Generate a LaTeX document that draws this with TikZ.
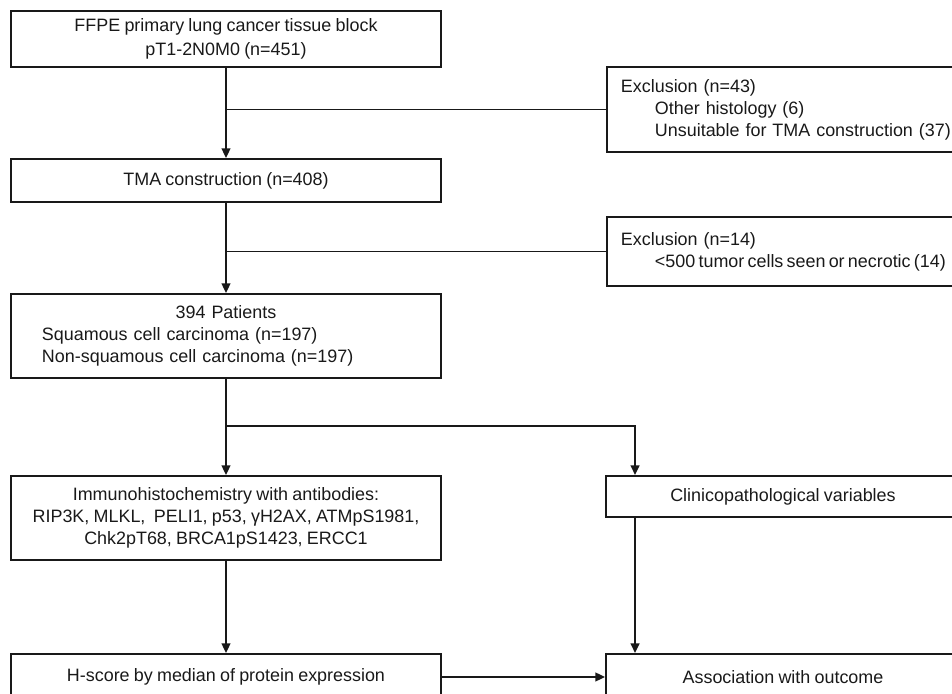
\documentclass[tikz,border=0pt]{standalone}
\usepackage{fontspec}
\setmainfont[WordSpace=0.85]{Liberation Sans}
\usetikzlibrary{arrows.meta}

\begin{document}
\begin{tikzpicture}[
        font=\fontsize{10.2pt}{12.5pt}\selectfont,
        box/.style={draw=black!90, line width=1.1pt, text=black!90, minimum width=8.6cm},
        sidebox/.style={draw=black!90, line width=1.1pt, text=black!90, minimum width=7.08cm},
        arr/.style={draw=black!90, line width=1pt, -{Triangle[length=5.5pt,width=5pt]}},
        link/.style={draw=black!90, line width=1pt}
    ]
        \useasboundingbox (0,0) rectangle (19.04,13.88);

        % Main column
        \node[box, minimum height=1.12cm, align=center] (ffpe) at (4.52,13.10)
            {FFPE primary lung cancer tissue block\\[1pt] pT1-2N0M0 (n=451)};
        \node[box, minimum height=0.86cm] (tma) at (4.52,10.27) {TMA construction (n=408)};
        \node[box, minimum height=1.68cm, text width=7.36cm, inner xsep=0.62cm, align=left] (pat) at (4.52,7.16)
            {\makebox[7.36cm][c]{394 Patients}\\ Squamous cell carcinoma (n=197)\\ Non-squamous cell carcinoma (n=197)};
        \node[box, minimum height=1.68cm, align=center] (ihc) at (4.52,3.52)
            {Immunohistochemistry with antibodies:\\ RIP3K, MLKL,\ \ PELI1, p53, γH2AX, ATMpS1981,\\ Chk2pT68, BRCA1pS1423, ERCC1};
        \node[box, minimum height=0.92cm] (hscore) at (4.52,0.34) {H-score by median of protein expression};

        % Exclusions
        \node[sidebox, minimum height=1.70cm, text width=7.4cm, inner xsep=0.28cm, align=left, anchor=west] (excl1) at (12.12,11.69)
            {Exclusion (n=43)\\ \hspace*{0.68cm}Other histology (6)\\ \hspace*{0.68cm}Unsuitable for TMA construction (37)};
        \node[sidebox, minimum height=1.38cm, text width=7.4cm, inner xsep=0.28cm, align=left, anchor=west] (excl2) at (12.12,8.85)
            {Exclusion (n=14)\\ \hspace*{0.68cm}{\spaceskip=0.18em plus 0.04em minus 0.02em <500 tumor cells seen or necrotic (14)}};

        % Right column
        \node[sidebox, minimum height=0.82cm] (clin) at (15.66,3.95) {Clinicopathological variables};
        \node[sidebox, minimum height=0.92cm] (assoc) at (15.66,0.34) {Association with outcome};

        % Connectors
        \draw[arr] (ffpe) -- (tma);
        \draw[link] (ffpe.south |- excl1.west) -- (excl1.west);
        \draw[arr] (tma) -- (pat);
        \draw[link] (tma.south |- excl2.west) -- (excl2.west);
        \draw[arr] (pat) -- (ihc);
        \coordinate (split) at (4.52,5.36);
        \draw[arr] (split) -| ([xshift=0.6cm]clin.north west);
        \draw[arr] (ihc) -- (hscore);
        \draw[arr] ([xshift=0.6cm]clin.south west) -- ([xshift=0.6cm]assoc.north west);
        \draw[arr] (hscore) -- (assoc);

    \end{tikzpicture}
\end{document}
